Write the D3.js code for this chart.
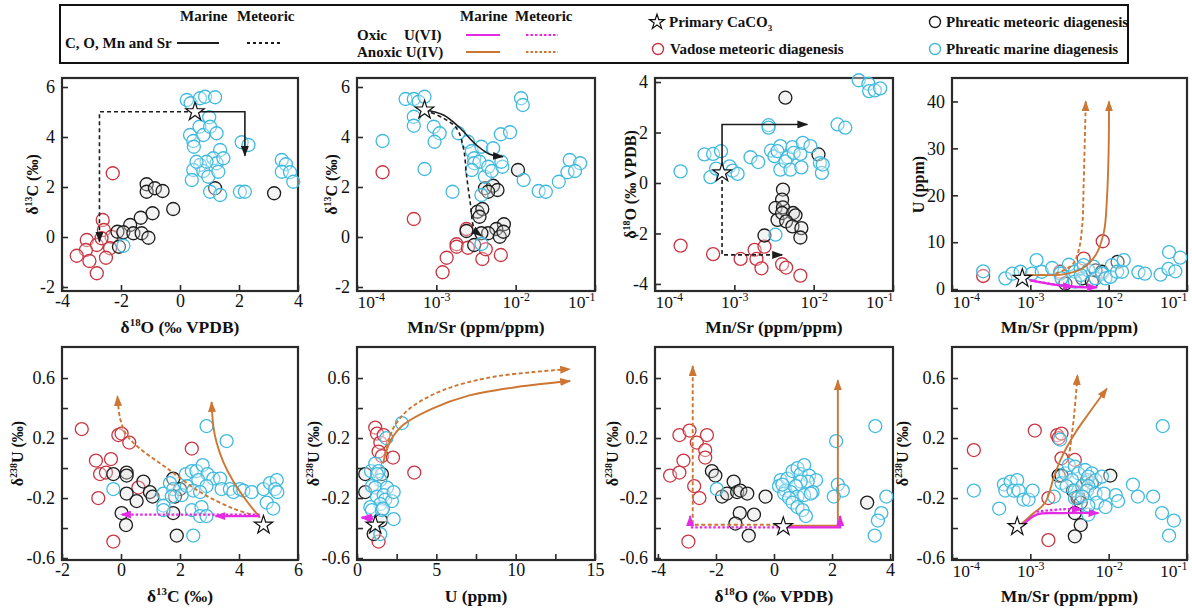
<!DOCTYPE html>
<html>
<head>
<meta charset="utf-8">
<script src="https://cdn.jsdelivr.net/npm/d3@7"></script>
<style>
  body { margin: 0; background: #fff; }
  svg text { font-family: "Liberation Serif", "Times New Roman", serif; fill: #111; }
</style>
</head>
<body>
<svg id="chart" width="1192" height="609"></svg>
<script>
// ---- panel 1: d18O vs d13C
const ocMarine = [[0.23,5.48],[0.36,5.35],[0.68,5.55],[0.85,5.61],[1.19,5.59],[0.99,4.79],[0.34,4.08],[0.45,3.84],[0.47,3.61],[0.66,4.41],[0.79,4.08],[1.02,4.41],[1.24,4.15],[1.36,3.48],[0.68,2.88],[0.45,2.68],[0.40,2.28],[0.79,2.64],[0.96,2.41],[1.13,3.15],[1.24,2.95],[1.47,3.15],[1.30,2.61],[0.90,3.01],[0.56,3.01],[1.02,1.81],[1.36,1.68],[2.03,1.81],[2.20,1.81],[2.09,3.79],[2.32,3.68],[3.45,3.08],[3.59,2.91],[3.45,2.61],[3.73,2.59],[3.84,2.21],[-1.92,-0.35]];
const ocPhreatic = [[-1.13,2.11],[-1.13,1.81],[-0.85,1.95],[-0.59,1.84],[-0.93,0.95],[-0.23,1.12],[-1.33,0.77],[-1.69,0.48],[-2.12,0.21],[-1.92,0.19],[-1.58,0.15],[-1.30,0.15],[-1.07,-0.03],[-2.07,-0.39],[1.19,1.95],[3.19,1.75]];
const ocVadose = [[-2.28,2.55],[-2.62,0.68],[-2.58,0.28],[-2.32,0.01],[-3.16,-0.12],[-2.82,-0.32],[-2.37,-0.45],[-3.19,-0.52],[-3.50,-0.75],[-3.07,-0.96],[-2.51,-0.83],[-2.82,-1.45],[-2.66,-0.05]];
const ocPrimary = [0.51,5.01];
const ocTrendMarine = [[0.51,5.01],[2.2,5.01],[2.2,3.25]];
const ocTrendMeteoric = [[0.51,5.01],[-2.73,5.01],[-2.73,-0.19]];

// ---- panel 2: Mn/Sr vs d13C
const mcMarine = [[0.00041,5.52],[0.00052,5.52],[0.0006,5.41],[0.00071,5.61],[0.00052,4.81],[0.00052,4.45],[0.00093,4.41],[0.0011,4.15],[0.00095,3.81],[0.00021,3.84],[0.00071,2.72],[0.0019,4.15],[0.0025,3.81],[0.0028,3.44],[0.0037,3.61],[0.0052,3.55],[0.003,3.15],[0.003,2.95],[0.0035,3.01],[0.0028,2.68],[0.0041,2.41],[0.0045,2.81],[0.005,2.64],[0.0068,2.81],[0.0066,3.01],[0.0065,4.11],[0.0085,4.19],[0.0117,5.55],[0.0123,5.28],[0.0126,2.28],[0.0195,1.84],[0.024,1.81],[0.0016,1.81],[0.0037,1.68],[0.035,2.21],[0.045,2.59],[0.048,3.08],[0.065,2.95],[0.056,2.64],[0.0037,-0.28]];
const mcPhreatic = [[0.0041,1.95],[0.0052,2.05],[0.0059,1.88],[0.0045,1.81],[0.0033,1.01],[0.0038,1.12],[0.0035,0.81],[0.0071,0.51],[0.0057,0.32],[0.0045,0.15],[0.0037,0.15],[0.0024,0.24],[0.003,-0.32],[0.0063,0.01],[0.007,0.21],[0.0107,2.68]];
const mcVadose = [[0.00021,2.59],[0.00052,0.72],[0.0018,-0.29],[0.00135,-0.83],[0.0018,-0.39],[0.0024,0.32],[0.0025,-0.43],[0.0038,-0.88],[0.0042,-0.49],[0.0065,-0.72],[0.0012,-1.41]];
const mcPrimary = [0.00071,5.08];
const mcTrendMarine = [[0.00071,5.08],[0.00123,4.88],[0.002,4.35],[0.0032,3.68],[0.0047,3.31],[0.0069,3.21]];
const mcTrendMeteoric = [[0.00071,5.08],[0.00123,4.75],[0.0018,4.35],[0.0022,3.55],[0.0024,2.48],[0.0027,1.28],[0.003,0.35],[0.0037,0.05]];

// ---- panel 3: Mn/Sr vs d18O
const moMarine = [[0.00021,0.46],[0.00042,1.13],[0.00054,1.15],[0.00068,1.26],[0.0005,0.23],[0.00059,0.57],[0.00087,0.66],[0.00095,0.49],[0.0011,0.36],[0.0016,1.02],[0.002,0.83],[0.0027,2.29],[0.0027,2.19],[0.0029,1.28],[0.0032,1.06],[0.0038,1.46],[0.0035,1.26],[0.0038,0.53],[0.0047,1.02],[0.0044,0.86],[0.0054,1.42],[0.0051,0.53],[0.0056,1.19],[0.0068,1.15],[0.007,0.62],[0.0073,1.59],[0.0091,1.46],[0.012,0.79],[0.0127,0.40],[0.013,0.73],[0.02,2.32],[0.025,2.19],[0.037,4.07],[0.049,3.93],[0.05,3.64],[0.059,3.67],[0.069,3.75],[0.0033,-2.05]];
const moPhreatic = [[0.0044,3.38],[0.0115,1.13],[0.0041,-0.26],[0.004,-0.66],[0.0033,-0.99],[0.0041,-0.97],[0.0035,-1.46],[0.004,-1.19],[0.0055,-1.19],[0.0059,-1.28],[0.0045,-1.52],[0.0054,-1.72],[0.007,-1.79],[0.0068,-2.16],[0.0024,-2.08]];
const moVadose = [[0.00021,-2.48],[0.00054,-2.82],[0.0012,-3.01],[0.0018,-2.65],[0.0019,-3.01],[0.0024,-2.52],[0.0022,-3.38],[0.004,-3.22],[0.0045,-3.35],[0.0068,-3.67]];
const moPrimary = [0.0007,0.40];
const moTrendMarine = [[0.0007,0.40],[0.0007,2.32],[0.0083,2.32]];
const moTrendMeteoric = [[0.0007,0.40],[0.0007,-2.85],[0.004,-2.85]];

// ---- panel 4: Mn/Sr vs U
const muMarine = [[0.00025,3.8],[0.00048,2.3],[0.00059,3.3],[0.00075,3.7],[0.00105,3.3],[0.0012,6.2],[0.0014,3.7],[0.0019,4.5],[0.0024,3.3],[0.0031,5.2],[0.0037,3.7],[0.0044,4.4],[0.0048,5.1],[0.0055,4.0],[0.0064,4.8],[0.0068,2.3],[0.0082,3.3],[0.0091,2.3],[0.0105,2.6],[0.011,5.1],[0.0128,3.7],[0.0148,3.7],[0.0156,6.2],[0.024,3.6],[0.029,3.3],[0.046,3.1],[0.059,7.9],[0.058,4.3],[0.071,3.8],[0.082,6.7],[0.0025,2.3],[0.0037,1.6],[0.0044,3.0]];
const muPhreatic = [[0.0028,1.2],[0.0046,2.3],[0.0061,1.6],[0.0068,4.0],[0.0082,3.7],[0.013,5.8]];
const muVadose = [[0.00025,2.8],[0.0048,6.5],[0.0084,10.2],[0.0024,3.7]];
const muPrimary = [0.00079,2.3];
const muOxicMarine = [[0.00098,1.9],[0.0019,1.0],[0.004,0.45],[0.0071,0.4]];
const muOxicMeteoric = [[0.00098,1.9],[0.0017,1.2],[0.0026,0.7],[0.0035,0.6]];
const muAnoxicMarine = [[0.0009,3.0],[0.0014,3.0],[0.0025,3.1],[0.0046,4.4],[0.0068,7.2],[0.0087,12.2],[0.0095,19.3],[0.01,29.8],[0.0101,40]];
const muAnoxicMeteoric = [[0.0021,3.3],[0.0034,5.1],[0.0041,8.0],[0.0046,13.6],[0.0048,22.8],[0.0051,40]];

// ---- panel 5: d13C vs d238U
const cuMarine = [[-0.26,-0.14],[1.44,-0.17],[1.66,-0.10],[1.77,-0.14],[1.44,-0.25],[1.44,-0.28],[1.72,-0.19],[2.06,-0.18],[2.20,-0.04],[2.40,-0.02],[2.56,-0.02],[2.77,0.02],[2.93,-0.04],[3.13,-0.07],[2.62,-0.08],[2.23,-0.12],[2.45,-0.15],[2.90,-0.12],[2.68,-0.16],[3.36,-0.07],[3.41,-0.14],[3.69,-0.14],[3.81,-0.16],[4.03,-0.14],[4.15,-0.15],[4.43,-0.16],[4.83,-0.14],[5.05,-0.10],[5.28,-0.08],[5.22,-0.14],[5.30,-0.16],[4.94,-0.23],[5.16,-0.27],[2.40,-0.28],[2.73,-0.26],[2.68,-0.32],[2.90,-0.32],[2.45,-0.45],[2.90,0.28],[3.58,0.18]];
const cuPhreatic = [[-0.26,-0.04],[0.19,-0.03],[0.19,-0.05],[0.76,-0.09],[0.98,-0.16],[1.07,-0.19],[0.19,-0.17],[0.53,-0.22],[0.02,-0.30],[0.17,-0.38],[1.77,-0.07],[2.0,-0.14],[1.83,-0.19],[1.77,-0.30],[1.89,-0.45]];
const cuVadose = [[-1.33,0.26],[-0.85,0.05],[-0.71,-0.04],[-0.51,-0.03],[-0.34,0.06],[-0.77,-0.20],[-0.09,0.22],[0.02,0.23],[0.28,0.17],[0.59,-0.13],[-0.26,-0.49],[2.40,0.13]];
const cuPrimary = [4.83,-0.38];
const cuOxicMarine = [[4.7,-0.32],[3.2,-0.32]];
const cuOxicMeteoric = [[4.7,-0.31],[0.0,-0.31]];
const cuAnoxicMarine = [[4.71,-0.33],[4.26,-0.22],[3.81,-0.09],[3.47,0.04],[3.24,0.17],[3.13,0.28],[3.07,0.44]];
const cuAnoxicMeteoric = [[4.6,-0.32],[3.81,-0.27],[2.68,-0.16],[1.55,0.0],[0.64,0.13],[0.19,0.22],[-0.03,0.33],[-0.12,0.48]];

// ---- panel 6: U vs d238U
const uuMarine = [[0.88,-0.02],[1.15,0.03],[1.36,-0.02],[1.47,-0.08],[0.94,-0.12],[1.15,-0.13],[1.26,-0.19],[1.89,-0.13],[1.68,-0.18],[1.78,-0.21],[1.47,-0.24],[0.84,-0.26],[0.94,-0.28],[1.57,-0.28],[2.2,-0.22],[2.31,-0.16],[1.64,-0.27],[2.31,-0.34],[1.47,-0.44],[1.85,0.2],[2.83,0.3],[1.26,-0.04]];
const uuPhreatic = [[0.52,-0.04],[0.52,-0.16],[1.57,-0.04],[1.51,-0.35],[1.05,-0.44]];
const uuVadose = [[1.15,0.27],[1.26,0.23],[1.47,0.17],[1.36,0.11],[1.57,0.08],[1.68,0.22],[2.27,0.07],[3.61,-0.03],[1.36,-0.49]];
const uuPrimary = [1.15,-0.38];
const uuOxicMarine = [[1.0,-0.34],[0.3,-0.33]];
const uuOxicMeteoric = [[1.0,-0.33],[0.3,-0.33]];
const uuAnoxicMarine = [[1.64,0.03],[2.1,0.18],[2.94,0.29],[4.82,0.4],[6.92,0.48],[10.07,0.54],[13.43,0.58]];
const uuAnoxicMeteoric = [[1.78,0.09],[2.31,0.27],[3.36,0.4],[5.45,0.52],[8.18,0.6],[11.1,0.64],[13.43,0.66]];

// ---- panel 7: d18O vs d238U
const ouMarine = [[-1.97,-0.14],[0.23,-0.08],[0.17,-0.12],[0.40,-0.15],[0.46,-0.07],[0.64,-0.02],[0.81,0.0],[0.92,-0.04],[1.04,0.02],[1.21,-0.05],[1.45,-0.08],[1.16,-0.09],[1.33,-0.16],[0.92,-0.09],[0.75,-0.12],[0.58,-0.16],[0.81,-0.19],[1.04,-0.18],[1.27,-0.17],[0.35,-0.17],[0.52,-0.20],[0.64,-0.23],[0.81,-0.26],[0.98,-0.28],[1.10,-0.32],[0.29,-0.11],[2.14,0.18],[2.20,-0.11],[2.37,-0.15],[2.06,-0.19],[3.49,0.28],[3.70,-0.30],[3.58,-0.35],[3.47,-0.45],[3.87,-0.19]];
const ouPhreatic = [[-2.14,-0.02],[-2.02,-0.05],[-1.79,-0.19],[-1.62,-0.17],[-1.39,-0.09],[-1.27,-0.16],[-1.16,-0.15],[-0.92,-0.17],[-1.18,-0.30],[-1.33,-0.37],[-0.69,-0.31],[-0.87,-0.45],[-0.29,-0.19],[3.21,-0.23]];
const ouVadose = [[-3.58,-0.05],[-3.26,-0.03],[-3.26,0.22],[-2.91,0.25],[-3.12,0.05],[-2.66,0.17],[-2.31,0.22],[-2.37,0.12],[-2.37,0.07],[-2.75,-0.12],[-2.57,-0.20],[-2.95,-0.49]];
const ouPrimary = [0.32,-0.39];
const ouAnoxicMarine = [[0.32,-0.385],[2.2,-0.385],[2.2,0.585]];
const ouAnoxicMeteoric = [[0.32,-0.378],[-2.8,-0.378],[-2.8,0.68]];
const ouOxicMarine = [[0.32,-0.395],[2.28,-0.395],[2.28,-0.32]];
const ouOxicMeteoric = [[0.32,-0.395],[-2.89,-0.395],[-2.89,-0.32]];

// ---- panel 8: Mn/Sr vs d238U
const mUMarine = [[0.00019,-0.15],[0.0004,-0.27],[0.00046,-0.11],[0.00048,-0.15],[0.00056,-0.09],[0.00068,-0.08],[0.00061,-0.15],[0.00071,-0.15],[0.00082,-0.21],[0.00095,-0.21],[0.00107,-0.15],[0.002,-0.19],[0.0025,-0.10],[0.0028,-0.035],[0.0031,0.02],[0.0037,0.01],[0.0041,-0.035],[0.005,-0.013],[0.0061,-0.035],[0.0055,-0.057],[0.0068,-0.08],[0.0082,-0.057],[0.0034,-0.08],[0.0029,-0.12],[0.0037,-0.15],[0.0046,-0.12],[0.0055,-0.12],[0.0037,-0.20],[0.0053,-0.15],[0.0068,-0.17],[0.0046,-0.19],[0.0071,-0.23],[0.0087,-0.17],[0.0123,-0.18],[0.0132,-0.22],[0.0204,-0.11],[0.0236,-0.19],[0.037,-0.19],[0.048,-0.30],[0.068,-0.35],[0.059,-0.45],[0.049,0.28],[0.0055,-0.31],[0.0024,0.19],[0.0091,-0.26],[0.0055,-0.25]];
const mUPhreatic = [[0.0023,-0.05],[0.0025,-0.05],[0.0035,-0.15],[0.004,-0.20],[0.0041,-0.19],[0.0044,-0.23],[0.0037,-0.30],[0.0044,-0.38],[0.0037,-0.455],[0.0105,-0.05],[0.0053,-0.08],[0.0061,-0.10]];
const mUVadose = [[0.00019,0.12],[0.00114,0.25],[0.0022,0.22],[0.0023,0.20],[0.0025,0.23],[0.0025,0.065],[0.0037,0.054],[0.0017,-0.20],[0.0017,-0.48]];
const mUPrimary = [0.00068,-0.39];
const mUOxicMarine = [[0.0008,-0.38],[0.0012,-0.31],[0.0025,-0.30],[0.0074,-0.30]];
const mUOxicMeteoric = [[0.0012,-0.29],[0.0025,-0.275],[0.0045,-0.275]];
const mUAnoxicMarine = [[0.00078,-0.37],[0.00105,-0.31],[0.00155,-0.23],[0.002,-0.06],[0.0025,0.07],[0.0037,0.23],[0.0055,0.36],[0.0095,0.53]];
const mUAnoxicMeteoric = [[0.0031,0.07],[0.0036,0.34],[0.004,0.62]];

// ---- axis ticks
const logTicks = [1e-4, 1e-3, 1e-2, 1e-1];
const o18Ticks = [-4, -2, 0, 2, 4];
const c13Ticks = [-2, 0, 2, 4, 6];
const c13TicksX = [-2, 0, 2, 4, 6];
const o18TicksY = [-4, -2, 0, 2, 4];
const uTicks = [0, 10, 20, 30, 40];
const uTicksX = [0, 2.5, 5, 7.5, 10, 12.5, 15];
const uLabelsX = [0, 5, 10, 15];
const u238Ticks = [-0.6, -0.4, -0.2, 0, 0.2, 0.4, 0.6];
const u238Labels = [-0.6, -0.2, 0.2, 0.6];

const CYAN = '#3fbadf', RED = '#c93440', BLACK = '#1c1c1c', MAGENTA = '#e52ae5', ORANGE = '#cd7633';

const svg = d3.select('#chart');
const defs = svg.append('defs');
[['k', BLACK], ['m', MAGENTA], ['o', ORANGE]].forEach(([id, c]) => {
  defs.append('marker')
    .attr('id', 'ah-' + id)
    .attr('viewBox', '0 0 10 10')
    .attr('refX', 9).attr('refY', 5)
    .attr('markerWidth', 11).attr('markerHeight', 8)
    .attr('markerUnits', 'userSpaceOnUse')
    .attr('preserveAspectRatio', 'none')
    .attr('orient', 'auto')
    .append('path').attr('d', 'M0,0L10,5L0,10Z').attr('fill', c);
});

function rich(sel, parts, fs) {
  let raised = false;
  parts.forEach(p => {
    const t = sel.append('tspan');
    if (typeof p === 'string') {
      t.text(p);
      if (raised) { t.attr('dy', fs * 0.38); raised = false; }
    } else {
      t.text(p.sup).attr('font-size', fs * 0.62).attr('dy', -fs * 0.38);
      raised = true;
    }
  });
}

const d18O = ['δ', {sup: '18'}, 'O (‰ VPDB)'];
const d13C = ['δ', {sup: '13'}, 'C (‰)'];
const d238U = ['δ', {sup: '238'}, 'U (‰)'];
const mnSr = ['Mn/Sr (ppm/ppm)'];
const uPpm = ['U (ppm)'];

const blackTrends = (m, w) => [
  {pts: m, color: BLACK, marker: 'k', dash: null},
  {pts: w, color: BLACK, marker: 'k', dash: '4,3'}
];
const uTrends = (om, ow, am, aw) => [
  {pts: am, color: ORANGE, marker: 'o', dash: null},
  {pts: aw, color: ORANGE, marker: 'o', dash: '4,2.5'},
  {pts: om, color: MAGENTA, marker: 'm', dash: null},
  {pts: ow, color: MAGENTA, marker: 'm', dash: '2.5,2'}
];

const top1 = 78, top2 = 347, H = 213;
const panels = [
  {left: 62, w: 236, top: top1, xLog: false, xDom: [-4, 4], xTicks: o18Ticks, yDom: [-2.16, 6.36], yTicks: c13Ticks,
   xTitle: d18O, yTitle: d13C, yTitleX: 32, data: [ocVadose, ocPhreatic, ocMarine], star: ocPrimary,
   trends: blackTrends(ocTrendMarine, ocTrendMeteoric), curve: false},
  {left: 357, w: 238, top: top1, xLog: true, xDom: [1e-4, 1e-1], xTicks: logTicks, yDom: [-2.16, 6.36], yTicks: c13Ticks,
   xTitle: mnSr, yTitle: d13C, yTitleX: 331, data: [mcVadose, mcPhreatic, mcMarine], star: mcPrimary,
   trends: blackTrends(mcTrendMarine, mcTrendMeteoric), curve: true},
  {left: 655, w: 238, top: top1, xLog: true, xDom: [1e-4, 1e-1], xTicks: logTicks, yDom: [-4.28, 4.16], yTicks: o18TicksY,
   xTitle: mnSr, yTitle: d18O, yTitleX: 630, data: [moVadose, moPhreatic, moMarine], star: moPrimary,
   trends: blackTrends(moTrendMarine, moTrendMeteoric), curve: false},
  {left: 952, w: 235, top: top1, xLog: true, xDom: [1e-4, 1e-1], xTicks: logTicks, yDom: [-0.4, 45], yTicks: uTicks,
   xTitle: mnSr, yTitle: uPpm, yTitleX: 918, data: [muVadose, muPhreatic, muMarine], star: muPrimary,
   trends: uTrends(muOxicMarine, muOxicMeteoric, muAnoxicMarine, muAnoxicMeteoric), curve: true},
  {left: 62, w: 236, top: top2, xLog: false, xDom: [-2, 6], xTicks: c13TicksX, yDom: [-0.613, 0.807], yTicks: u238Ticks, yLabels: u238Labels,
   xTitle: d13C, yTitle: d238U, yTitleX: 17, data: [cuVadose, cuPhreatic, cuMarine], star: cuPrimary,
   trends: uTrends(cuOxicMarine, cuOxicMeteoric, cuAnoxicMarine, cuAnoxicMeteoric), curve: true},
  {left: 357, w: 238, top: top2, xLog: false, xDom: [0, 15], xTicks: uTicksX, xLabels: uLabelsX, yDom: [-0.613, 0.807], yTicks: u238Ticks, yLabels: u238Labels,
   xTitle: uPpm, yTitle: d238U, yTitleX: 313, data: [uuVadose, uuPhreatic, uuMarine], star: uuPrimary,
   trends: uTrends(uuOxicMarine, uuOxicMeteoric, uuAnoxicMarine, uuAnoxicMeteoric), curve: true},
  {left: 655, w: 238, top: top2, xLog: false, xDom: [-4.1, 4.1], xTicks: o18Ticks, yDom: [-0.613, 0.807], yTicks: u238Ticks, yLabels: u238Labels,
   xTitle: d18O, yTitle: d238U, yTitleX: 612, data: [ouVadose, ouPhreatic, ouMarine], star: ouPrimary,
   trends: uTrends(ouOxicMarine, ouOxicMeteoric, ouAnoxicMarine, ouAnoxicMeteoric), curve: false},
  {left: 952, w: 235, top: top2, xLog: true, xDom: [1e-4, 1e-1], xTicks: logTicks, yDom: [-0.613, 0.807], yTicks: u238Ticks, yLabels: u238Labels,
   xTitle: mnSr, yTitle: d238U, yTitleX: 902, data: [mUVadose, mUPhreatic, mUMarine], star: mUPrimary,
   trends: uTrends(mUOxicMarine, mUOxicMeteoric, mUAnoxicMarine, mUAnoxicMeteoric), curve: true}
];

const groupStyle = [
  {stroke: RED, fill: '#fff'},
  {stroke: BLACK, fill: '#ddd'},
  {stroke: CYAN, fill: '#fff'}
];

panels.forEach(p => {
  const g = svg.append('g');
  const x = (p.xLog ? d3.scaleLog() : d3.scaleLinear()).domain(p.xDom).range([p.left, p.left + p.w]);
  const y = d3.scaleLinear().domain(p.yDom).range([p.top + H, p.top]);

  g.append('rect')
    .attr('x', p.left).attr('y', p.top).attr('width', p.w).attr('height', H)
    .attr('fill', 'none').attr('stroke', '#2a2a2a').attr('stroke-width', 2.2);

  const xAxis = d3.axisBottom(x).tickValues(p.xTicks).tickSizeInner(-6).tickSizeOuter(0).tickPadding(p.xLog ? 5 : 3)
    .tickFormat(d => p.xLog ? '' : (!p.xLabels || p.xLabels.includes(d) ? String(d) : ''));
  const xg = g.append('g').attr('transform', `translate(0,${p.top + H})`).call(xAxis);
  const yAxis = d3.axisLeft(y).tickValues(p.yTicks).tickSizeInner(-6).tickSizeOuter(0).tickPadding(7)
    .tickFormat(d => !p.yLabels || p.yLabels.includes(d) ? String(d) : '');
  const yg = g.append('g').attr('transform', `translate(${p.left},0)`).call(yAxis);
  [xg, yg].forEach(a => {
    a.select('.domain').remove();
    a.selectAll('line').attr('stroke', '#2a2a2a').attr('stroke-width', 1.6);
    a.selectAll('text').attr('font-size', 18).attr('font-family', '"Liberation Serif", serif').attr('fill', '#111');
  });
  if (p.xLog) {
    xg.selectAll('.tick text').each(function(d, i) {
      const t = d3.select(this);
      t.append('tspan').text('10');
      t.append('tspan').text(String(Math.round(Math.log10(d)))).attr('font-size', 12).attr('dy', -7.5);
      t.attr('font-size', 17.5)
        .attr('text-anchor', i === 0 ? 'start' : (i === p.xTicks.length - 1 ? 'end' : 'middle'));
    });
  }

  // axis titles
  const xt = g.append('text').attr('x', p.left + p.w / 2).attr('y', p.top + H + 42)
    .attr('text-anchor', 'middle').attr('font-weight', 'bold').attr('font-size', 17.5);
  rich(xt, p.xTitle, 17.5);
  const yt = g.append('text')
    .attr('transform', `translate(${p.yTitleX},${p.top + H / 2}) rotate(-90)`)
    .attr('text-anchor', 'middle').attr('dy', '0.35em').attr('font-weight', 'bold').attr('font-size', 16);
  rich(yt, p.yTitle, 16);

  // points
  p.data.forEach((pts, i) => {
    g.append('g').selectAll('circle').data(pts).join('circle')
      .attr('cx', d => x(d[0])).attr('cy', d => y(d[1])).attr('r', 6.5)
      .attr('fill', groupStyle[i].fill).attr('fill-opacity', 0.35)
      .attr('stroke', groupStyle[i].stroke).attr('stroke-width', 1.3);
  });

  // trend arrows
  const line = d3.line().x(d => x(d[0])).y(d => y(d[1]))
    .curve(p.curve ? d3.curveCatmullRom.alpha(0.5) : d3.curveLinear);
  p.trends.forEach(t => {
    g.append('path').attr('d', line(t.pts))
      .attr('fill', 'none').attr('stroke', t.color)
      .attr('stroke-width', t.color === BLACK ? 1.6 : (t.color === MAGENTA ? 2.3 : 1.9))
      .attr('stroke-dasharray', t.dash)
      .attr('marker-end', `url(#ah-${t.marker})`);
  });

  g.append('path')
    .attr('d', d3.symbol(d3.symbolStar, 105)())
    .attr('transform', `translate(${x(p.star[0])},${y(p.star[1])})`)
    .attr('fill', '#fff').attr('stroke', '#111').attr('stroke-width', 1.2);
});

// ---- legend
const lg = svg.append('g').attr('font-weight', 'bold').attr('font-size', 15);
lg.append('rect').attr('x', 60).attr('y', 5).attr('width', 1068).attr('height', 58)
  .attr('fill', '#fff').attr('stroke', '#111').attr('stroke-width', 2);

const txt = (x, y, s) => lg.append('text').attr('x', x).attr('y', y).attr('dy', '0.35em').text(s);
txt(180, 16, 'Marine');
txt(237, 16, 'Meteoric');
txt(65, 43, 'C, O, Mn and Sr');
txt(357, 35, 'Oxic');
txt(404, 35, 'U(VI)');
txt(357, 52, 'Anoxic U(IV)');
txt(460, 16, 'Marine');
txt(515, 16, 'Meteoric');

const seg = (x1, x2, yy, c, dash) => lg.append('line').attr('x1', x1).attr('x2', x2).attr('y1', yy).attr('y2', yy)
  .attr('stroke', c).attr('stroke-width', 2).attr('stroke-dasharray', dash);
seg(177, 219, 43, BLACK, null);
seg(247, 281, 43, BLACK, '3,3');
seg(466, 500, 35, MAGENTA, null);
seg(526, 558, 35, MAGENTA, '2.5,2');
seg(466, 500, 52, ORANGE, null);
seg(526, 558, 52, ORANGE, '2.5,2');

lg.append('path').attr('d', d3.symbol(d3.symbolStar, 70)())
  .attr('transform', 'translate(657,22)').attr('fill', '#fff').attr('stroke', '#111').attr('stroke-width', 1.2);
const prim = txt(669, 22, 'Primary CaCO');
prim.append('tspan').text('3').attr('font-size', 9).attr('dy', 4);
const dot = (cx, cy, c) => lg.append('circle').attr('cx', cx).attr('cy', cy).attr('r', 5.5)
  .attr('fill', 'none').attr('stroke', c).attr('stroke-width', 1.4);
dot(658, 49, RED);
txt(670, 49, 'Vadose meteoric diagenesis');
dot(935, 22, BLACK);
txt(946, 22, 'Phreatic meteoric diagenesis');
dot(935, 49, CYAN);
txt(946, 49, 'Phreatic marine diagenesis');
</script>
</body>
</html>
